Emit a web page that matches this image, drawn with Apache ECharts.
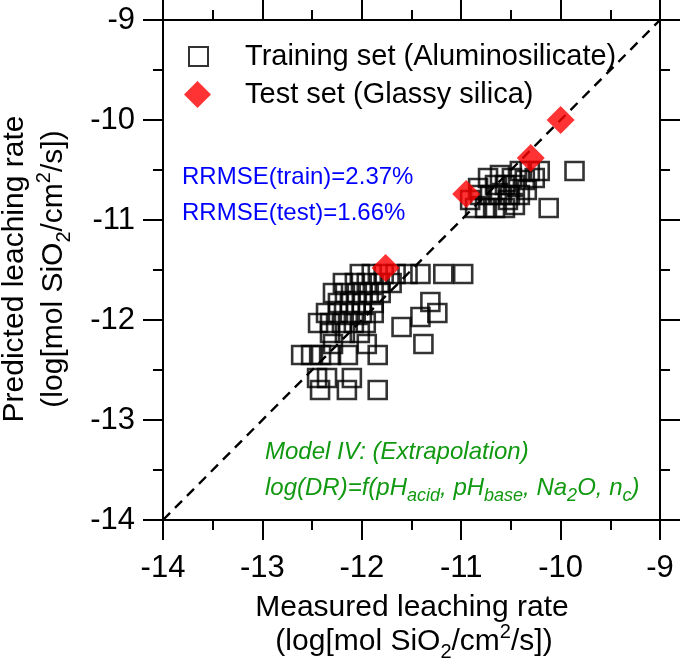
<!DOCTYPE html>
<html><head><meta charset="utf-8">
<script src="https://cdn.jsdelivr.net/npm/echarts@6/dist/echarts.min.js"></script>
<style>html,body{margin:0;padding:0;background:#fff}#c{width:685px;height:666px}</style>
</head><body><div id="c"></div>
<script>
const FONT = "'Liberation Sans', Arial, Helvetica, sans-serif";

// ---- data ----
const axisMin = -14, axisMax = -9, axisStep = 1;
const trainName = 'Training set (Aluminosilicate)';
const testName = 'Test set (Glassy silica)';
const trainMeasured = [
  // upper cluster
  -9.86, -10.12, -10.21, -10.31, -10.41, -10.49, -10.36, -10.26, -10.56, -10.46, -10.66, -10.61, -10.51, -10.41,
  -10.71, -10.81, -10.86, -10.76, -10.66, -10.56, -10.46, -10.91, -10.83, -10.73, -10.61, -10.34, -10.53,
  // lower cluster
  -12.02, -11.90, -11.78, -11.66, -11.54, -11.41, -11.18, -10.98,
  -12.19, -12.07, -11.95, -11.82, -11.70,
  -12.29, -12.17, -12.05, -11.93, -11.81,
  -12.24, -12.12, -12.00, -11.88,
  -12.36, -12.24, -12.12, -12.00, -11.88,
  -12.44, -12.32, -12.20, -12.08, -11.96,
  -12.32, -12.17, -12.02,
  -12.29, -11.95,
  -12.61, -12.51, -12.41, -12.31, -12.14, -11.84,
  -12.45, -12.35, -12.10,
  -12.42, -12.15, -11.84,
  -11.31, -11.24, -11.41, -11.60, -11.38
];
const trainPredicted = [
  -10.51, -10.88, -10.51, -10.51, -10.51, -10.58, -10.60, -10.58, -10.65, -10.65, -10.65, -10.75, -10.75, -10.75,
  -10.75, -10.75, -10.88, -10.88, -10.88, -10.88, -10.85, -10.80, -10.68, -10.58, -10.55, -10.70, -10.80,
  -11.54, -11.54, -11.54, -11.54, -11.54, -11.54, -11.54, -11.54,
  -11.63, -11.63, -11.63, -11.63, -11.63,
  -11.73, -11.73, -11.73, -11.73, -11.73,
  -11.83, -11.83, -11.83, -11.83,
  -11.93, -11.93, -11.93, -11.93, -11.93,
  -12.03, -12.03, -12.03, -12.03, -12.03,
  -12.13, -12.13, -12.13,
  -12.24, -12.24,
  -12.35, -12.35, -12.35, -12.35, -12.35, -12.35,
  -12.58, -12.58, -12.58,
  -12.70, -12.70, -12.70,
  -11.82, -11.93, -11.97, -12.07, -12.24
];
const testMeasured = [-11.76, -10.95, -10.30, -10.00];
const testPredicted = [-11.48, -10.74, -10.38, -10.00];
const parityEnds = [-14, -9];

const rrmseTexts = ['RRMSE(train)=2.37%', 'RRMSE(test)=1.66%'];
const modelTitle = 'Model IV: (Extrapolation)';
const xTitle1 = 'Measured leaching rate';
const yTitle1 = 'Predicted leaching rate';
const unitRich = '{n|(log[mol SiO}{s|2}{n|/cm}{p|2}{n|/s])}';
const eqRich = '{i|log(DR)=f(pH}{is|acid}{i|, pH}{is|base}{i|, Na}{is|2}{i|O, n}{is|c}{i|)}';

// ---- build ----
const trainData = trainMeasured.map((m, i) => [m, trainPredicted[i]]);
const testData = testMeasured.map((m, i) => [m, testPredicted[i]]);
const lineData = parityEnds.map(v => [v, v]);

function axisCommon(pos, showLabel) {
  return {
    type: 'value', min: axisMin, max: axisMax, interval: axisStep, position: pos,
    axisLine: {show: true, onZero: false, lineStyle: {color: '#000', width: 2}},
    axisTick: {show: true, inside: false, length: 20, lineStyle: {color: '#000', width: 2}},
    minorTick: {show: true, splitNumber: 2, length: 10, lineStyle: {color: '#000', width: 2}},
    splitLine: {show: false}, minorSplitLine: {show: false},
    axisLabel: {show: showLabel, color: '#000', fontSize: 31, fontFamily: FONT,
      margin: pos === 'bottom' ? 33 : 28}
  };
}

const unitStyles = {
  n: {fontSize: 30, fontFamily: FONT, lineHeight: 40},
  s: {fontSize: 20, fontFamily: FONT, verticalAlign: 'bottom', lineHeight: 20},
  p: {fontSize: 20, fontFamily: FONT, verticalAlign: 'top', lineHeight: 20}
};

const chart = echarts.init(document.getElementById('c'));
chart.setOption({
  animation: false,
  grid: {left: 163, right: 25, top: 20, bottom: 146, containLabel: false, outerBoundsMode: 'none'},
  xAxis: [axisCommon('bottom', true), axisCommon('top', false)],
  yAxis: [axisCommon('left', true), axisCommon('right', false)],
  legend: [
    {data: [trainName], left: 188, top: 42, padding: 0, itemWidth: 19, itemHeight: 19,
     selectedMode: false,
     textStyle: {fontSize: 29, fontFamily: FONT, color: '#000', padding: [0, 0, 0, 32]}},
    {data: [testName], left: 184, top: 80, padding: 0, itemWidth: 27, itemHeight: 27,
     selectedMode: false,
     textStyle: {fontSize: 29, fontFamily: FONT, color: '#000', padding: [0, 0, 0, 29]}}
  ],
  series: [
    {type: 'line', data: lineData, symbol: 'none', silent: true, z: 1,
     lineStyle: {color: '#000', width: 2.4, type: [10, 7]}},
    {name: trainName, type: 'scatter', data: trainData, symbol: 'rect', symbolSize: 18, z: 2,
     itemStyle: {color: 'rgba(0,0,0,0)', borderColor: '#000', borderWidth: 2.6}},
    {name: testName, type: 'scatter', data: testData, symbol: 'diamond', symbolSize: 28, z: 3,
     itemStyle: {color: '#ff0000'}}
  ],
  graphic: [
    {type: 'text', left: 182, top: 165, z: 10,
     style: {text: rrmseTexts[0], fontSize: 24, fontFamily: FONT, fill: '#0000ff'}},
    {type: 'text', left: 182, top: 201, z: 10,
     style: {text: rrmseTexts[1], fontSize: 24, fontFamily: FONT, fill: '#0000ff'}},
    {type: 'text', left: 265, top: 440, z: 10,
     style: {text: modelTitle, fontSize: 24, fontStyle: 'italic', fontFamily: FONT, fill: '#119911'}},
    {type: 'text', left: 265, top: 476, z: 10,
     style: {text: eqRich, fill: '#119911', rich: {
       i: {fontSize: 24, fontStyle: 'italic', fontFamily: FONT, fill: '#119911', lineHeight: 34},
       is: {fontSize: 18, fontStyle: 'italic', fontFamily: FONT, fill: '#119911', verticalAlign: 'bottom', lineHeight: 17}
     }}},
    {type: 'text', x: 412, y: 608, z: 10,
     style: {text: xTitle1, fontSize: 30, fontFamily: FONT, fill: '#000', align: 'center', verticalAlign: 'middle'}},
    {type: 'text', x: 414, y: 642, z: 10,
     style: {text: unitRich, fill: '#000', align: 'center', verticalAlign: 'middle', rich: unitStyles}},
    {type: 'text', x: 15, y: 269, rotation: Math.PI / 2, z: 10,
     style: {text: yTitle1, fontSize: 30, fontFamily: FONT, fill: '#000', align: 'center', verticalAlign: 'middle'}},
    {type: 'text', x: 54, y: 269, rotation: Math.PI / 2, z: 10,
     style: {text: unitRich, fill: '#000', align: 'center', verticalAlign: 'middle', rich: unitStyles}}
  ]
});
</script></body></html>
